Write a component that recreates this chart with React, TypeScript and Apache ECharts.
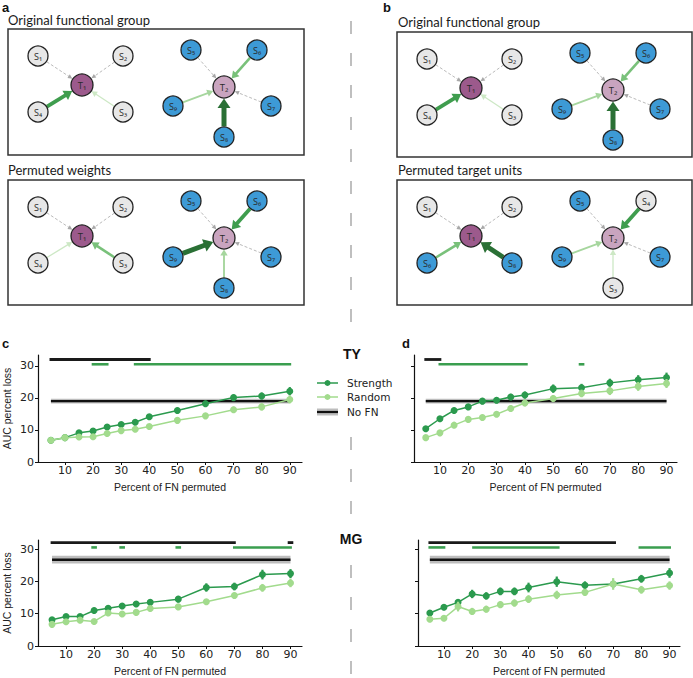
import React, { useEffect, useRef } from "react";
import * as echarts from "echarts";

// ---------------- data ----------------
const percents = [5, 10, 15, 20, 25, 30, 35, 40, 50, 60, 70, 80, 90];
const xTicks = [10, 20, 30, 40, 50, 60, 70, 80, 90];
const yTicks = [0, 10, 20, 30];

// TY, panel c (permuted weights)
const tyStrengthC = [6.8, 7.6, 9.1, 9.7, 10.9, 11.7, 12.4, 14.1, 16.1, 18.2, 20.1, 20.6, 22.1];
const tyStrengthErrC = [0.3, 0.4, 0.5, 0.5, 0.6, 0.6, 0.7, 0.8, 0.9, 1.0, 1.0, 1.1, 1.3];
const tyRandomC = [6.8, 7.6, 7.8, 7.9, 8.9, 9.8, 10.2, 11.1, 13.0, 14.4, 16.3, 17.2, 19.5];
const tyRandomErrC = [0.3, 0.4, 0.5, 0.5, 0.6, 0.6, 0.6, 0.7, 0.9, 0.8, 1.0, 1.1, 1.2];
// TY, panel d (permuted target units)
const tyStrengthD = [10.4, 13.5, 16.1, 17.2, 19.0, 19.3, 20.3, 20.9, 22.9, 23.2, 24.7, 25.7, 26.4];
const tyStrengthErrD = [0.5, 0.6, 0.9, 0.9, 1.0, 1.0, 1.0, 1.1, 1.3, 1.2, 1.3, 1.4, 1.5];
const tyRandomD = [7.6, 9.1, 11.5, 13.3, 13.9, 14.9, 16.7, 18.4, 19.8, 21.4, 22.2, 23.6, 24.5];
const tyRandomErrD = [0.5, 0.6, 0.8, 0.9, 0.9, 0.9, 1.0, 1.0, 1.1, 1.2, 1.3, 1.4, 1.4];
// MG, left
const mgStrengthC = [8.1, 9.1, 9.1, 11.0, 11.7, 12.4, 13.0, 13.5, 14.5, 18.1, 18.4, 22.1, 22.4];
const mgStrengthErrC = [0.5, 0.5, 0.5, 0.9, 0.8, 0.8, 0.9, 0.9, 1.0, 1.3, 1.2, 1.5, 1.4];
const mgRandomC = [6.7, 7.5, 8.0, 7.6, 10.2, 9.9, 10.4, 11.6, 12.1, 13.7, 15.6, 18.0, 19.5];
const mgRandomErrC = [0.5, 0.5, 0.5, 0.5, 0.8, 0.6, 0.6, 0.8, 0.8, 0.8, 1.0, 1.2, 1.3];
// MG, right
const mgStrengthD = [10.2, 12.0, 13.5, 16.1, 15.5, 16.9, 16.9, 18.1, 19.9, 18.8, 19.2, 20.8, 22.6];
const mgStrengthErrD = [0.6, 0.7, 0.8, 1.3, 1.1, 1.2, 1.2, 1.5, 1.6, 1.2, 1.0, 1.2, 1.5];
const mgRandomD = [8.3, 8.6, 12.2, 10.7, 11.4, 12.8, 13.3, 14.5, 15.8, 16.6, 19.2, 17.4, 18.7];
const mgRandomErrD = [0.6, 0.7, 1.5, 1.1, 1.0, 1.0, 1.1, 1.2, 1.3, 1.1, 1.8, 1.2, 1.3];

// "No FN" baselines [value, sem]
const tyNoFN = [19.0, 0.75];
const mgNoFN = [26.7, 1.2];
const noFNRange = [5, 90];

// significance segments [from, to]
const sigBlackC = [[4.5, 40.5]];
const sigGreenC = [[19.5, 25.5], [34.5, 90.5]];
const sigBlackD = [[4.5, 10.5]];
const sigGreenD = [[9.5, 41], [59, 61]];
const sigBlackMgC = [[4.5, 70.5], [89, 91]];
const sigGreenMgC = [[19, 21], [29, 31], [49, 51], [69.5, 90.5]];
const sigBlackMgD = [[4.5, 71]];
const sigGreenMgD = [[4.5, 10.5], [20, 51], [79, 90.5]];
const sigLevelBlack = 32.0;
const sigLevelGreen = 30.5;

const legendLabels = ["Strength", "Random", "No FN"];
const groupLabels = ["TY", "MG"];
const panelLetters = ["a", "b", "c", "d"];
const boxTitles = ["Original functional group", "Permuted weights", "Original functional group", "Permuted target units"];
const xAxisTitle = "Percent of FN permuted";
const yAxisTitle = "AUC percent loss";

// network schematic content
const nodeSlots = ["S1", "S2", "T1", "S4", "S3", "S5", "S6", "T2", "S9", "S7", "S8"];
const originalNodes = ["S1", "S2", "T1", "S4", "S3", "S5", "S6", "T2", "S9", "S7", "S8"];
const permutedTargetNodes = ["S1", "S2", "T1", "S6", "S8", "S5", "S4", "T2", "S9", "S7", "S3"];
const originalWeights: Record<string, number> = { S1: 0, S2: 0, S3: 1, S4: 4, S5: 0, S6: 3, S7: 0, S8: 5, S9: 2 };
const permutedWeights: Record<string, number> = { S1: 0, S2: 0, S3: 3, S4: 1, S5: 0, S6: 4, S7: 0, S8: 2, S9: 5 };

// ---------------- styles / layout ----------------
const C_STRENGTH = "#2b9a4e";
const C_RANDOM = "#a2db8d";
const C_SIG_GREEN = "#3a9e4f";
const C_BLACK = "#1a1a1a";

const slotXY: Record<string, [number, number]> = {
  S1: [30, 27], S2: [115, 27], T1: [74, 56], S4: [30, 83], S3: [115, 83],
  S5: [183, 21], S6: [249, 21], T2: [216, 58], S9: [165, 77], S7: [263, 77], S8: [216, 108],
};
const slotTarget: Record<string, string> = {
  S1: "T1", S2: "T1", S4: "T1", S3: "T1", S5: "T2", S6: "T2", S9: "T2", S7: "T2", S8: "T2",
};
const edgeStyles = [
  { color: "#a8a8a8", width: 0.8, dash: [3, 2] as number[] | null },
  { color: "#cde8c5", width: 1.3, dash: null },
  { color: "#a6d69e", width: 1.9, dash: null },
  { color: "#79c17a", width: 2.6, dash: null },
  { color: "#3f9d4e", width: 3.8, dash: null },
  { color: "#2a7035", width: 5, dash: null },
];

const SUB = "₀₁₂₃₄₅₆₇₈₉";
function nodeLabel(n: string) {
  return n[0] + SUB[parseInt(n.slice(1), 10)];
}
function nodeFill(n: string) {
  if (n === "T1") return "#9c5a8c";
  if (n === "T2") return "#c9a4bf";
  const k = parseInt(n.slice(1), 10);
  return k <= 4 ? "#e7e7e7" : "#3d9ad6";
}

function networkBox(bx: number, by: number, bw: number, bh: number, title: string, titleX: number, titleY: number, nodes: string[], weights: Record<string, number>) {
  const els: any[] = [];
  els.push({
    type: "text", x: titleX, y: titleY, z: 10,
    style: { text: title, fontSize: 13, fontFamily: "Lato", fill: "#1a1a1a", textAlign: "left", textVerticalAlign: "middle" },
  });
  els.push({
    type: "rect", z: 10, shape: { x: bx, y: by, width: bw, height: bh },
    style: { fill: "none", stroke: "#333", lineWidth: 1.5 },
  });
  const pos: Record<string, [number, number]> = {};
  nodeSlots.forEach((s) => {
    pos[s] = [bx + slotXY[s][0], by + slotXY[s][1]];
  });
  // edges
  nodeSlots.forEach((slot, i) => {
    const tSlot = slotTarget[slot];
    if (!tSlot) return;
    const src = nodes[i];
    const w = weights[src] ?? 0;
    const st = edgeStyles[w];
    const [sx, sy] = pos[slot];
    const [tx, ty] = pos[tSlot];
    const dx = tx - sx, dy = ty - sy;
    const d = Math.hypot(dx, dy);
    const ux = dx / d, uy = dy / d;
    const rs = 10, rt = 11;
    const x0 = sx + ux * (rs + 0.5), y0 = sy + uy * (rs + 0.5);
    const tipX = tx - ux * (rt + 0.5), tipY = ty - uy * (rt + 0.5);
    const L = w === 0 ? 4.5 : st.width * 1.1 + 4;
    const H = w === 0 ? 2.2 : st.width * 0.9 + 2;
    const bX = tipX - ux * L, bY = tipY - uy * L;
    const nx = -uy, ny = ux;
    els.push({
      type: "line", z: 11,
      shape: { x1: x0, y1: y0, x2: bX + ux * 1, y2: bY + uy * 1 },
      style: { stroke: st.color, lineWidth: st.width, lineDash: st.dash || undefined },
    });
    els.push({
      type: "polygon", z: 11,
      shape: { points: [[tipX, tipY], [bX + nx * H, bY + ny * H], [bX - nx * H, bY - ny * H]] },
      style: { fill: st.color, stroke: "none" },
    });
  });
  // nodes
  nodeSlots.forEach((slot, i) => {
    const n = nodes[i];
    const [x, y] = pos[slot];
    const r = n[0] === "T" ? 11 : 10;
    els.push({
      type: "circle", z: 12, shape: { cx: x, cy: y, r },
      style: { fill: nodeFill(n), stroke: "#222", lineWidth: 1.3 },
    });
    els.push({
      type: "text", z: 13, x, y,
      style: {
        text: nodeLabel(n), fontSize: n[0] === "T" ? 9.5 : 9, fontFamily: "Open Sans",
        fill: "#2a2a2a", textAlign: "center", textVerticalAlign: "middle",
      },
    });
  });
  return els;
}

const gridDefs = [
  { left: 38, top: 355, width: 264, height: 107, xmin: 0.4, xmax: 94.35, ymax: 33.4, showY: true },
  { left: 414, top: 355, width: 263, height: 107, xmin: 0.85, xmax: 93.7, ymax: 33.4, showY: false },
  { left: 38, top: 540, width: 264, height: 106, xmin: 0, xmax: 94.1, ymax: 32.8, showY: true },
  { left: 418, top: 540, width: 262, height: 106, xmin: 0.8, xmax: 93.7, ymax: 32.8, showY: false },
];

const panels = [
  { s: tyStrengthC, se: tyStrengthErrC, r: tyRandomC, re: tyRandomErrC, nofn: tyNoFN, sb: sigBlackC, sg: sigGreenC },
  { s: tyStrengthD, se: tyStrengthErrD, r: tyRandomD, re: tyRandomErrD, nofn: tyNoFN, sb: sigBlackD, sg: sigGreenD },
  { s: mgStrengthC, se: mgStrengthErrC, r: mgRandomC, re: mgRandomErrC, nofn: mgNoFN, sb: sigBlackMgC, sg: sigGreenMgC },
  { s: mgStrengthD, se: mgStrengthErrD, r: mgRandomD, re: mgRandomErrD, nofn: mgNoFN, sb: sigBlackMgD, sg: sigGreenMgD },
];

function errSeries(i: number, vals: number[], errs: number[], color: string, z: number) {
  return {
    type: "custom", xAxisIndex: i, yAxisIndex: i, z, silent: true,
    encode: { x: 0, y: 1 },
    data: percents.map((p, k) => [p, vals[k], errs[k]]),
    renderItem: (_p: any, api: any) => {
      const x = api.value(0), y = api.value(1), e = api.value(2);
      const a = api.coord([x, y - e]);
      const b = api.coord([x, y + e]);
      return { type: "line", shape: { x1: a[0], y1: a[1], x2: b[0], y2: b[1] }, style: { stroke: color, lineWidth: 2.2 } };
    },
  };
}
function lineSeries(i: number, name: string, vals: number[], color: string, z: number) {
  return {
    type: "line", name, xAxisIndex: i, yAxisIndex: i, z,
    data: percents.map((p, k) => [p, vals[k]]),
    symbol: "circle", symbolSize: 7, showSymbol: true,
    lineStyle: { color, width: 1.5 },
    itemStyle: { color },
  };
}
function sigSeries(i: number, segs: number[][], level: number, color: string, width: number) {
  return {
    type: "custom", xAxisIndex: i, yAxisIndex: i, z: 2, silent: true,
    encode: { x: [0, 1], y: 2 },
    data: segs.map((s) => [s[0], s[1], level]),
    renderItem: (_p: any, api: any) => {
      const a = api.coord([api.value(0), api.value(2)]);
      const b = api.coord([api.value(1), api.value(2)]);
      return { type: "line", shape: { x1: a[0], y1: a[1], x2: b[0], y2: b[1] }, style: { stroke: color, lineWidth: width } };
    },
  };
}
function noFNSeries(i: number, nofn: number[]) {
  return {
    type: "custom", xAxisIndex: i, yAxisIndex: i, z: 1, silent: true,
    encode: { x: [0, 1], y: 2 },
    data: [[noFNRange[0], noFNRange[1], nofn[0], nofn[1]]],
    renderItem: (_p: any, api: any) => {
      const x0 = api.value(0), x1 = api.value(1), y = api.value(2), e = api.value(3);
      const a = api.coord([x0, y + e]);
      const b = api.coord([x1, y - e]);
      const m0 = api.coord([x0, y]);
      const m1 = api.coord([x1, y]);
      return {
        type: "group",
        children: [
          { type: "rect", shape: { x: a[0], y: a[1], width: b[0] - a[0], height: b[1] - a[1] }, style: { fill: "#bdbdbd" } },
          { type: "line", shape: { x1: m0[0], y1: m0[1], x2: m1[0], y2: m1[1] }, style: { stroke: "#111", lineWidth: 2.4 } },
        ],
      };
    },
  };
}

export default function App() {
  const ref = useRef<HTMLDivElement>(null);
  useEffect(() => {
    document.body.style.margin = "0";
    if (!ref.current) return;
    const chart = echarts.init(ref.current, undefined, { renderer: "svg" });

    const grid = gridDefs.map((g) => ({ left: g.left, top: g.top, width: g.width, height: g.height }));
    const xAxis = gridDefs.map((g, i) => ({
      gridIndex: i, type: "value", min: g.xmin, max: g.xmax,
      axisLine: { show: true, onZero: false, lineStyle: { color: "#111", width: 1.2 } },
      axisTick: { show: true, customValues: xTicks, length: 3, lineStyle: { color: "#111", width: 1 } },
      axisLabel: { show: true, customValues: xTicks, fontSize: 11, color: "#222", margin: 3, fontFamily: "DejaVu Sans" },
      splitLine: { show: false },
      name: xAxisTitle, nameLocation: "middle", nameGap: 19,
      nameTextStyle: { fontSize: 10.5, fontFamily: "Liberation Sans", color: "#222" },
    }));
    const yAxis = gridDefs.map((g, i) => ({
      gridIndex: i, type: "value", min: 0, max: g.ymax,
      axisLine: { show: true, onZero: false, lineStyle: { color: "#111", width: 1.2 } },
      axisTick: { show: true, customValues: yTicks, length: 3, lineStyle: { color: "#111", width: 1 } },
      axisLabel: { show: g.showY, customValues: yTicks, fontSize: 11, color: "#222", margin: 4, fontFamily: "DejaVu Sans" },
      splitLine: { show: false },
      name: g.showY ? yAxisTitle : "", nameLocation: "middle", nameGap: 26,
      nameTextStyle: { fontSize: 10.5, fontFamily: "Liberation Sans", color: "#222" },
    }));

    const series: any[] = [];
    panels.forEach((p, i) => {
      series.push(noFNSeries(i, p.nofn));
      series.push(sigSeries(i, p.sb, sigLevelBlack, C_BLACK, 2.8));
      series.push(sigSeries(i, p.sg, sigLevelGreen, C_SIG_GREEN, 2.6));
      series.push(errSeries(i, p.s, p.se, C_STRENGTH, 3));
      series.push(lineSeries(i, legendLabels[0], p.s, C_STRENGTH, 4));
      series.push(errSeries(i, p.r, p.re, C_RANDOM, 5));
      series.push(lineSeries(i, legendLabels[1], p.r, C_RANDOM, 6));
    });

    const els: any[] = [];
    // dashed separator
    els.push({
      type: "line", z: 1, shape: { x1: 351, y1: 21, x2: 351, y2: 678 },
      style: { stroke: "#b0b0b0", lineWidth: 1.6, lineDash: [13, 19] },
    });
    // white patches behind group labels / legend
    els.push({ type: "rect", z: 2, shape: { x: 340, y: 334, width: 24, height: 26 }, style: { fill: "#fff" } });
    els.push({ type: "rect", z: 2, shape: { x: 312, y: 372, width: 90, height: 48 }, style: { fill: "#fff" } });
    els.push({ type: "rect", z: 2, shape: { x: 340, y: 528, width: 26, height: 22 }, style: { fill: "#fff" } });

    // panel letters
    const letterPos = [[2, 7], [383, 7], [2, 343], [402, 343]];
    panelLetters.forEach((l, k) => {
      els.push({
        type: "text", z: 20, x: letterPos[k][0], y: letterPos[k][1],
        style: { text: l, fontSize: 13, fontWeight: "bold", fontFamily: "Liberation Sans", fill: "#111", textAlign: "left", textVerticalAlign: "middle" },
      });
    });
    // group labels
    const groupPos = [[352, 354], [351, 539]];
    groupLabels.forEach((g, k) => {
      els.push({
        type: "text", z: 20, x: groupPos[k][0], y: groupPos[k][1],
        style: { text: g, fontSize: 14, fontWeight: "bold", fontFamily: "Liberation Sans", fill: "#111", textAlign: "center", textVerticalAlign: "middle" },
      });
    });
    // legend
    const legY = [383, 397, 412];
    const legColors = [C_STRENGTH, C_RANDOM];
    legendLabels.forEach((lab, k) => {
      if (k < 2) {
        els.push({ type: "line", z: 20, shape: { x1: 317, y1: legY[k], x2: 338, y2: legY[k] }, style: { stroke: legColors[k], lineWidth: 1.5 } });
        els.push({ type: "circle", z: 21, shape: { cx: 327.5, cy: legY[k], r: 3 }, style: { fill: legColors[k] } });
      } else {
        els.push({ type: "rect", z: 20, shape: { x: 317, y: legY[k] - 3.5, width: 21, height: 7 }, style: { fill: "#bdbdbd" } });
        els.push({ type: "line", z: 21, shape: { x1: 317, y1: legY[k], x2: 338, y2: legY[k] }, style: { stroke: "#111", lineWidth: 2.2 } });
      }
      els.push({
        type: "text", z: 21, x: 347, y: legY[k],
        style: { text: lab, fontSize: 10.5, fontFamily: "DejaVu Sans", fill: "#222", textAlign: "left", textVerticalAlign: "middle" },
      });
    });

    // network boxes
    els.push(...networkBox(8, 29, 296, 126, boxTitles[0], 8, 20, originalNodes, originalWeights));
    els.push(...networkBox(8, 180, 296, 125, boxTitles[1], 8, 170, originalNodes, permutedWeights));
    els.push(...networkBox(397, 32, 295, 125, boxTitles[2], 398, 22, originalNodes, originalWeights));
    els.push(...networkBox(397, 180, 295, 125, boxTitles[3], 398, 170, permutedTargetNodes, originalWeights));

    chart.setOption({
      animation: false,
      backgroundColor: "#fff",
      grid, xAxis, yAxis, series,
      graphic: { elements: els },
    });
    return () => chart.dispose();
  }, []);
  return <div ref={ref} style={{ width: 693, height: 678 }} />;
}
